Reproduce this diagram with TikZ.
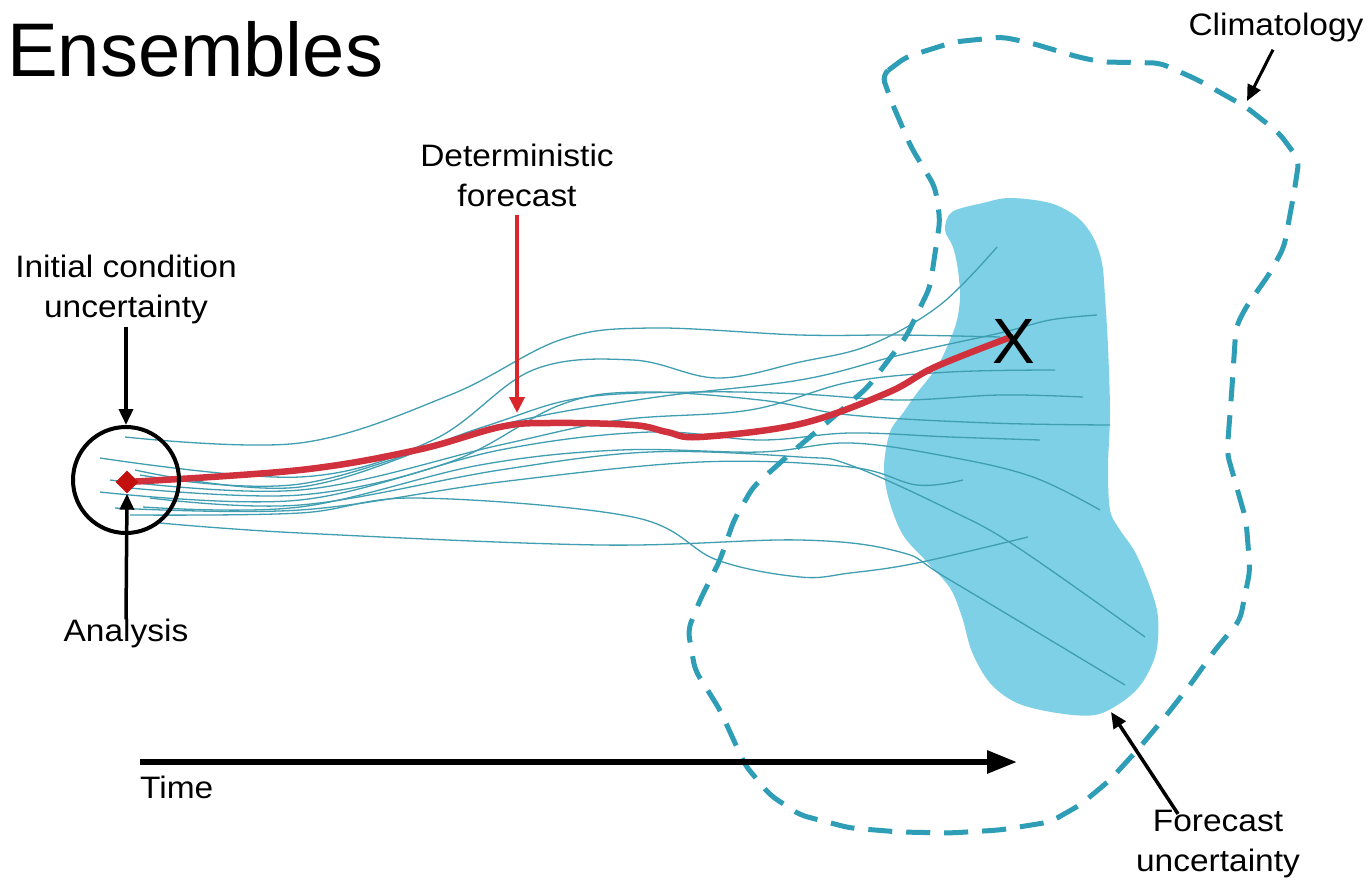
\documentclass[tikz,border=0pt]{standalone}
\usepackage{fontspec}
\setmainfont{Liberation Sans}
\newfontfamily\labfont[FakeStretch=1.08]{Liberation Sans}
\usetikzlibrary{arrows.meta,shapes.geometric}
\definecolor{blobc}{HTML}{7DD0E6}
\definecolor{ensc}{HTML}{3F9EB0}
\definecolor{climc}{HTML}{2E9DB6}
\definecolor{redl}{HTML}{D0313C}
\definecolor{reda}{HTML}{D9262A}
\definecolor{diac}{HTML}{C40F0F}
\begin{document}
\begin{tikzpicture}[x=1pt,y=-1pt,
  lbl/.style={font=\labfont\fontsize{31}{40}\selectfont, align=center, inner sep=0pt},
  blk/.style={line width=3.5pt, -{Triangle[length=16pt,width=14pt]}},
  ens/.style={ensc, line width=1.3pt},
  clim/.style={climc, line width=5pt, dash pattern=on 24pt off 14pt, rounded corners=8pt},
  fcast/.style={redl, line width=6.5pt, line cap=round},
  ]
\useasboundingbox (0,0) rectangle (1370,880);
\fill[white] (0,0) rectangle (1370,880);

% forecast uncertainty blob
\fill[blobc] plot[smooth cycle, tension=0.55] coordinates {
 (945,230) (952,212) (983,203) (1010,198) (1050,203) (1077,217) (1093,237)
 (1102,263) (1105,297) (1108,347) (1110,413) (1108,467) (1110,510) (1120,530)
 (1135,552) (1150,587) (1158,617) (1156,653) (1142,683) (1122,702) (1095,715)
 (1057,713) (1017,703) (990,683) (972,652) (962,617) (950,588) (927,562)
 (903,535) (889,500) (884,467) (890,432) (903,413) (917,393) (937,367)
 (950,340) (957,320) (960,297) (958,270) (953,247)};

% ensemble members
\draw[ens] plot[smooth, tension=0.6] coordinates {(125,437) (300,443) (450,395) (560,340) (650,328) (800,335) (900,335) (1000,337)};
\draw[ens] plot[smooth, tension=0.6] coordinates {(100,458) (300,477) (433,440) (533,370) (633,360) (717,378) (800,362) (870,345) (940,305) (997,247)};
\draw[ens] plot[smooth, tension=0.6] coordinates {(135,470) (300,487) (480,428) (580,398) (700,392) (800,394) (900,400) (1000,395) (1083,397)};
\draw[ens] plot[smooth, tension=0.6] coordinates {(110,480) (300,490) (500,445) (620,420) (750,410) (850,382) (950,372) (1055,370)};
\draw[ens] plot[smooth, tension=0.6] coordinates {(130,488) (300,495) (450,462) (560,405) (640,392) (760,400) (850,415) (990,423) (1110,425)};
\draw[ens] plot[smooth, tension=0.6] coordinates {(100,492) (300,500) (500,450) (650,432) (760,440) (850,433) (950,437) (1040,440)};
\draw[ens] plot[smooth, tension=0.6] coordinates {(143,507) (300,507) (480,465) (620,450) (760,452) (850,443) (950,457) (1033,477) (1100,510)};
\draw[ens] plot[smooth, tension=0.6] coordinates {(115,508) (300,510) (500,482) (700,462) (850,467) (917,485) (963,480)};
\draw[ens] plot[smooth, tension=0.6] coordinates {(150,498) (300,505) (500,470) (650,452) (800,457) (850,465) (950,510) (1017,547) (1145,637)};
\draw[ens] plot[smooth, tension=0.6] coordinates {(130,515) (300,513) (417,498) (633,517) (717,560) (800,577) (850,573) (917,563) (1028,537)};
\draw[ens] plot[smooth, tension=0.6] coordinates {(160,523) (300,533) (600,545) (800,540) (900,552) (950,580) (1125,685)};
\draw[ens] plot[smooth, tension=0.6] coordinates {(140,475) (300,484) (500,425) (650,398) (800,380) (900,355) (1000,333) (1050,320) (1097,315)};

% climatology
\draw[clim] (882,75) -- (906,57) -- (954,42) -- (1002,37) -- (1031,43) -- (1078,57)
 -- (1102,62) -- (1160,63) -- (1198,80) -- (1246,107) -- (1279,133) -- (1299,160)
 -- (1294,193) -- (1284,247) -- (1270,273) -- (1246,307) -- (1236,327) -- (1232,387)
 -- (1227,453) -- (1246,520) -- (1250,570) -- (1240,620) -- (1215,650) -- (1190,685)
 -- (1165,717) -- (1140,747) -- (1110,780) -- (1080,805) -- (1050,822) -- (1000,830)
 -- (950,833) -- (900,832) -- (850,828) -- (800,815) -- (770,795) -- (745,765)
 -- (720,710) -- (695,670) -- (688,630) -- (700,600) -- (720,560) -- (734,520)
 -- (753,487) -- (791,453) -- (830,420) -- (868,387) -- (906,337) -- (930,287)
 -- (940,220) -- (935,187) -- (911,147) -- (892,103) -- cycle;

% deterministic forecast
\draw[fcast] plot[smooth, tension=0.6] coordinates {(127,482) (300,470) (417,450) (500,427) (550,423) (633,425) (667,432) (700,437) (800,424) (887,393) (935,367) (1011,337)};

% initial condition circle and analysis
\node[circle, draw, line width=4pt, minimum size=106pt, inner sep=0pt] (circ) at (126,480) {};
\node[diamond, fill=diac, minimum size=23pt, inner sep=0pt] (dia) at (127,482) {};
\node[inner sep=0pt, font=\fontsize{64}{64}\selectfont] (xm) at (1014,341) {X};

% title and labels
\node[anchor=base west, inner sep=0pt, font=\fontsize{76}{76}\selectfont] (title) at (7,77) {Ensembles};
\node[lbl] (icu) at (126,289) {Initial condition\\uncertainty};
\node[lbl] (ana) at (126,633) {Analysis};
\node[lbl] (det) at (517,175) {Deterministic\\forecast};
\node[lbl] (clm) at (1276,27) {Climatology};
\node[lbl] (fu) at (1218,844) {Forecast\\uncertainty};
\node[lbl, anchor=west] (time) at (140,787) {Time};

\coordinate (climtip) at (1247,101);
\coordinate (futip) at (1111,712);
\coordinate (t0) at (140,762);
\coordinate (t1) at (1017,762);

% arrows
\draw[blk] ([yshift=-3pt]icu.south) -- (circ.north);
\draw[blk] ([yshift=-1pt]ana.north) -- (dia.south);
\draw[reda, line width=4pt, -{Triangle[length=16pt,width=15pt]}] ([yshift=-8pt]det.south) -- (517,413);
\draw[blk, line width=3pt] ([xshift=-3pt,yshift=-8pt]clm.south) -- (climtip);
\draw[blk] ([xshift=-40pt,yshift=-4pt]fu.north) -- (futip);
\draw[line width=6pt, -{Triangle[length=30pt,width=22pt]}] (t0) -- (t1);
\end{tikzpicture}
\end{document}
